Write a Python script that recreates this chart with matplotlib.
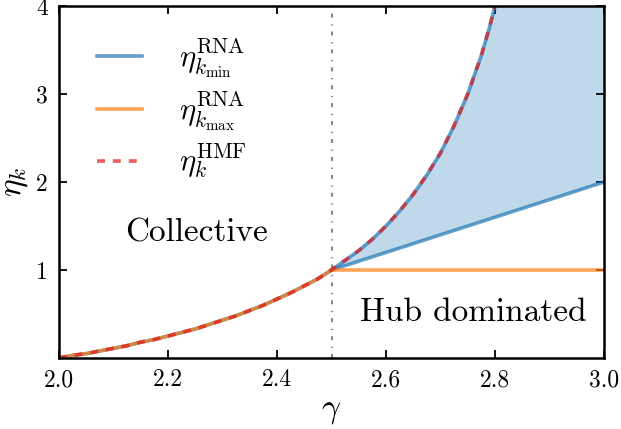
import numpy as np
import matplotlib
matplotlib.use("Agg")
import matplotlib.pyplot as plt

plt.rcParams['font.family'] = 'cmr10'
plt.rcParams['mathtext.fontset'] = 'cm'
plt.rcParams['axes.formatter.use_mathtext'] = True

gamma = [2.000, 2.025, 2.050, 2.075, 2.100, 2.125, 2.150, 2.175, 2.200, 2.225,
         2.250, 2.275, 2.300, 2.325, 2.350, 2.375, 2.400, 2.425, 2.450, 2.475,
         2.500, 2.525, 2.550, 2.575, 2.600, 2.625, 2.650, 2.675, 2.700, 2.725,
         2.750, 2.775, 2.790, 2.800]
eta_hmf = [0.00, 0.03, 0.05, 0.08, 0.11, 0.14, 0.18, 0.21, 0.25, 0.29,
           0.33, 0.38, 0.43, 0.48, 0.54, 0.60, 0.67, 0.74, 0.82, 0.90,
           1.00, 1.11, 1.22, 1.35, 1.50, 1.67, 1.86, 2.08, 2.33, 2.64,
           3.00, 3.44, 3.76, 4.00]

# lower branch of eta_kmin^RNA past the transition
gamma_low = [2.5, 3.0]
eta_kmin_low = [1.0, 2.0]
# eta_kmax^RNA stays at 1 in the hub dominated phase
gamma_max = [2.5, 3.0]
eta_kmax = [1.0, 1.0]

gamma_c = 2.5
xlim = (2.0, 3.0)
ylim = (0.0, 4.0)

blue = '#1f77b4'
orange = '#ff7f0e'
red = '#e41a1c'

g = np.array(gamma)
e = np.array(eta_hmf)
coll = g <= gamma_c
hub = g >= gamma_c

fig = plt.figure(figsize=(6.21, 4.29), dpi=100)
ax = fig.add_axes([59/621, 1 - 358/429, 545/621, 352/429])

# shaded region between the two kmin branches
fx = np.concatenate([g[hub], [xlim[1], gamma_low[1]], gamma_low[::-1]])
fy = np.concatenate([e[hub], [ylim[1], eta_kmin_low[1]], eta_kmin_low[::-1]])
ax.fill(fx, fy, color=blue, alpha=0.28, lw=0)

ax.axvline(gamma_c, color='#888888', lw=1.5, dashes=(1.9, 2.9, 0.6, 3.2), zorder=1)

ax.plot(g[coll], e[coll], color=blue, alpha=0.7, lw=2.6, label=r'$\eta^{\rm RNA}_{k_{\rm min}}$')
ax.plot(g[hub], e[hub], color=blue, alpha=0.7, lw=2.6)
ax.plot(gamma_low, eta_kmin_low, color=blue, alpha=0.7, lw=2.6)
ax.plot(g[coll], e[coll], color=orange, alpha=0.7, lw=2.6, label=r'$\eta^{\rm RNA}_{k_{\rm max}}$')
ax.plot(gamma_max, eta_kmax, color=orange, alpha=0.7, lw=2.6)
ax.plot(g, e, color=red, alpha=0.7, lw=2.6, dashes=(2.2, 2.2), label=r'$\eta^{\rm HMF}_{k}$')

ax.text(2.253, 1.42, 'Collective', fontsize=24, ha='center', va='center')
ax.text(2.76, 0.52, 'Hub dominated', fontsize=24, ha='center', va='center')

ax.set_xlim(*xlim)
ax.set_ylim(*ylim)
ax.set_xticks([2.0, 2.2, 2.4, 2.6, 2.8, 3.0])
ax.set_xticklabels(['2.0', '2.2', '2.4', '2.6', '2.8', '3.0'])
ax.set_yticks([1, 2, 3, 4])
ax.set_yticklabels(['1', '2', '3', '4'])
ax.tick_params(direction='in', length=6, width=1.3, labelsize=17, top=True, right=True, pad=8)
for s in ax.spines.values():
    s.set_linewidth(1.8)

ax.set_xlabel(r'$\gamma$', fontsize=24)
ax.set_ylabel(r'$\eta_k$', fontsize=24)

ax.legend(loc='upper left', bbox_to_anchor=(0.013, 1.0), frameon=False, fontsize=22,
          handlelength=1.5, labelspacing=0.3, handletextpad=1.2, borderaxespad=0.6)

fig.savefig('out.png', dpi=100)
